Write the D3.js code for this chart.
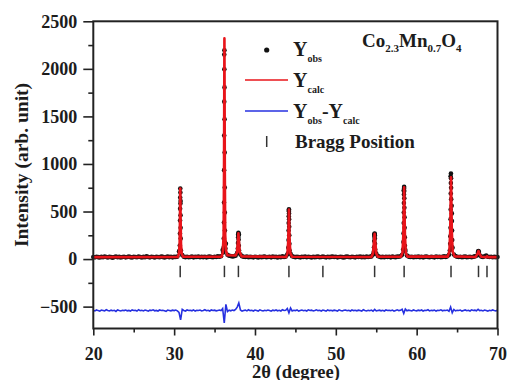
<!DOCTYPE html>
<html>
<head>
<meta charset="utf-8">
<script src="https://cdn.jsdelivr.net/npm/d3@7/dist/d3.min.js"></script>
<style>
  body { margin: 0; background: #fff; }
  svg { display: block; }
</style>
</head>
<body>
<svg id="chart" width="510" height="380"></svg>
<script>
const FONT = "'Liberation Serif', 'Times New Roman', Times, 'DejaVu Serif', serif";

// === Data ===
// observed scan, coarse grid 20..70 deg, step 0.2
const OBS_START = 20, OBS_STEP = 0.2;
const obsGrid = [
  22,18,25,20,16,23,19,27,21,17,
  24,20,15,22,26,19,23,17,21,25,
  18,22,27,20,16,24,21,19,26,22,
  17,23,20,28,21,18,24,22,16,25,
  21,19,26,23,17,22,27,20,24,18,
  23,21,26,80,610,42,25,20,24,19,
  22,26,18,23,21,27,19,24,20,25,
  18,23,26,21,19,24,22,28,25,30,
  95,2150,160,45,35,32,28,30,36,62,
  262,48,30,24,21,26,19,23,22,18,
  24,21,17,25,20,23,27,19,22,24,
  18,26,21,23,17,24,20,28,22,26,
  48,505,55,30,24,20,25,22,18,23,
  21,26,19,24,22,17,25,20,23,27,
  19,22,26,21,18,24,20,23,27,21,
  24,18,22,25,20,17,23,26,21,19,
  25,22,18,24,21,27,20,23,19,26,
  22,24,28,48,262,58,32,24,20,23,
  19,25,21,24,18,26,22,20,27,24,
  30,45,720,95,38,26,22,25,19,23,
  21,26,20,24,18,23,27,21,19,25,
  22,18,26,21,24,20,23,28,22,30,
  45,870,120,48,32,25,21,24,19,23,
  26,20,22,25,19,24,28,35,78,40,
  26,22,30,38,25,21,24,19,23,20,
  22
];

// observed points on the peak flanks (fine steps)
const obsPeaks = [
  [30.76,742],[30.77,700],[30.75,648],[30.78,585],[30.74,530],[30.79,460],[30.73,405],
  [30.80,330],[30.72,268],[30.81,215],[30.70,142],[30.84,90],[30.66,88],
  [36.22,2195],[36.21,1995],[36.23,1805],[36.20,1655],[36.24,1470],[36.19,1300],
  [36.25,1120],[36.18,935],[36.26,752],[36.17,594],[36.27,489],[36.16,384],
  [36.28,300],[36.14,216],[36.30,174],[36.12,120],[36.34,110],[36.08,70],
  [37.95,275],[37.93,262],[37.97,250],[37.92,230],[37.98,205],[37.90,170],
  [38.00,140],[37.88,110],[38.03,90],[37.85,65],
  [44.20,524],[44.19,505],[44.21,480],[44.18,450],[44.22,420],[44.17,380],[44.23,340],
  [44.16,300],[44.24,250],[44.15,200],[44.26,160],[44.13,120],[44.28,90],[44.10,60],
  [54.80,268],[54.78,258],[54.82,250],[54.77,235],[54.83,215],[54.75,190],
  [54.85,160],[54.73,125],[54.87,100],[54.70,75],[54.90,60],
  [58.45,759],[58.44,740],[58.46,715],[58.43,680],[58.47,640],[58.42,590],
  [58.48,540],[58.41,490],[58.50,440],[58.40,380],[58.51,330],[58.38,270],
  [58.53,230],[58.36,180],[58.55,140],[58.33,100],[58.58,80],
  [64.24,900],[64.25,850],[64.23,800],[64.26,750],[64.22,690],[64.27,630],
  [64.33,560],[64.21,520],[64.35,480],[64.20,420],[64.36,400],[64.19,330],
  [64.38,300],[64.17,240],[64.40,200],[64.15,160],[64.42,120],[64.10,90],
  [67.60,70],[67.65,85],[67.70,75]
];

// calculated profile vertices
const calcPts = [
  [20,20],[30.45,22],[30.6,60],[30.68,160],[30.72,420],[30.76,742],[30.8,420],
  [30.85,160],[30.93,60],[31.1,24],
  [35.85,24],[36.02,70],[36.12,250],[36.17,900],[36.22,2320],[36.27,900],
  [36.32,250],[36.42,90],[36.6,40],[37.6,38],[37.78,70],[37.88,180],
  [37.95,270],[38.02,180],[38.12,70],[38.35,28],
  [43.85,22],[44.02,60],[44.12,200],[44.2,520],[44.28,200],[44.38,60],[44.6,24],
  [54.4,22],[54.6,60],[54.72,180],[54.8,265],[54.88,180],[55.0,60],[55.2,24],
  [58.05,24],[58.25,70],[58.35,250],[58.45,755],[58.55,250],[58.65,70],[58.85,26],
  [63.85,26],[64.05,80],[64.15,290],[64.25,860],[64.35,290],[64.45,80],[64.7,28],
  [67.3,22],[67.55,60],[67.65,85],[67.75,60],[68.0,24],[68.6,20],[68.7,30],
  [68.8,20],[70,20]
];

// difference curve (offset), same grid as obsGrid
const diffGrid = [
  -538,-545,-535,-542,-548,-536,-540,-544,-533,-541,
  -546,-537,-543,-539,-550,-534,-541,-545,-538,-542,
  -536,-544,-540,-547,-535,-541,-538,-546,-532,-543,
  -539,-545,-536,-542,-548,-537,-541,-534,-544,-540,
  -546,-535,-541,-538,-543,-549,-536,-540,-544,-537,
  -542,-536,-545,-560,-640,-528,-540,-546,-535,-541,
  -538,-544,-534,-547,-539,-541,-536,-545,-540,-533,
  -543,-538,-546,-535,-541,-537,-544,-540,-536,-542,
  -520,-672,-476,-552,-538,-544,-536,-541,-530,-505,
  -462,-535,-548,-540,-537,-545,-533,-542,-539,-546,
  -536,-541,-547,-534,-540,-545,-538,-543,-536,-541,
  -548,-537,-542,-535,-544,-539,-546,-533,-541,-538,
  -520,-565,-515,-545,-538,-542,-535,-547,-540,-536,
  -543,-538,-546,-534,-541,-537,-545,-540,-533,-542,
  -539,-546,-536,-541,-548,-535,-542,-538,-544,-537,
  -541,-547,-534,-540,-545,-538,-536,-543,-539,-546,
  -535,-542,-538,-544,-537,-541,-547,-533,-540,-545,
  -538,-543,-536,-548,-530,-545,-540,-537,-544,-539,
  -546,-535,-541,-538,-543,-536,-548,-540,-534,-542,
  -539,-528,-572,-525,-543,-537,-541,-546,-535,-540,
  -544,-537,-542,-535,-546,-539,-541,-533,-545,-538,
  -542,-536,-547,-539,-541,-534,-544,-538,-540,-536,
  -548,-505,-565,-530,-545,-539,-541,-536,-547,-540,
  -535,-543,-538,-546,-534,-541,-537,-544,-528,-542,
  -539,-545,-536,-541,-547,-538,-543,-535,-540,-544,
  -538
];

const braggPos = [30.75, 36.22, 37.95, 44.2, 48.4, 54.8, 58.45, 64.25, 67.65, 68.7];
const braggSpan = [-70, -190];

const xMajor = [20, 30, 40, 50, 60, 70];
const xMinor = [25, 35, 45, 55, 65];
const yMajor = [-500, 0, 500, 1000, 1500, 2000, 2500];
const yMinor = [-250, 250, 750, 1250, 1750, 2250];

// === Scales ===
const svg = d3.select('#chart')
  .style('font-family', FONT)
  .style('font-weight', 'bold');
const x = d3.scaleLinear().domain([20, 70]).range([93.3, 497.5]);
const y = d3.scaleLinear().domain([-730, 2500]).range([328.5, 21.3]);

const obs = obsGrid.map((v, i) => [OBS_START + i * OBS_STEP, v]).concat(obsPeaks);
const diff = diffGrid.map((v, i) => [OBS_START + i * OBS_STEP, v]);

// === Axes ===
const axisG = svg.append('g');

function styleAxis(g) {
  g.attr('font-family', null).attr('font-size', null);
  g.select('.domain').remove();
  g.selectAll('.tick line').attr('stroke', '#222').attr('stroke-width', 1.6);
  g.selectAll('.tick text')
    .style('font-family', FONT)
    .style('font-weight', 'bold')
    .style('font-size', '18px')
    .attr('fill', '#1c1c1c');
}

axisG.append('g')
  .attr('transform', `translate(0,${y.range()[0]})`)
  .call(d3.axisBottom(x).tickValues(xMajor).tickSize(7).tickPadding(12).tickFormat(d3.format('d')))
  .call(styleAxis);
axisG.append('g')
  .attr('transform', `translate(0,${y.range()[0]})`)
  .call(d3.axisBottom(x).tickValues(xMinor).tickSize(4).tickFormat(''))
  .call(styleAxis);
axisG.append('g')
  .attr('transform', `translate(${x.range()[0]},0)`)
  .call(d3.axisLeft(y).tickValues(yMajor).tickSize(10).tickPadding(6).tickFormat(d3.format('d')))
  .call(styleAxis);
axisG.append('g')
  .attr('transform', `translate(${x.range()[0]},0)`)
  .call(d3.axisLeft(y).tickValues(yMinor).tickSize(5).tickFormat(''))
  .call(styleAxis);

// === Marks ===
const plot = svg.append('g');

plot.selectAll('circle.obs')
  .data(obs)
  .join('circle')
  .attr('class', 'obs')
  .attr('cx', d => x(d[0]))
  .attr('cy', d => y(d[1]))
  .attr('r', 2.3)
  .attr('fill', '#111');

const line = d3.line().x(d => x(d[0])).y(d => y(d[1]));

plot.append('path')
  .datum(calcPts)
  .attr('d', line)
  .attr('fill', 'none')
  .attr('stroke', '#e8141a')
  .attr('stroke-width', 2.6)
  .attr('stroke-linejoin', 'round');

plot.append('path')
  .datum(diff)
  .attr('d', line)
  .attr('fill', 'none')
  .attr('stroke', '#2630e0')
  .attr('stroke-width', 1.6);

plot.selectAll('line.bragg')
  .data(braggPos)
  .join('line')
  .attr('class', 'bragg')
  .attr('x1', d => x(d)).attr('x2', d => x(d))
  .attr('y1', y(braggSpan[0])).attr('y2', y(braggSpan[1]))
  .attr('stroke', '#333')
  .attr('stroke-width', 1.5);

// frame
svg.append('rect')
  .attr('x', x.range()[0]).attr('y', y.range()[1])
  .attr('width', x.range()[1] - x.range()[0])
  .attr('height', y.range()[0] - y.range()[1])
  .attr('fill', 'none')
  .attr('stroke', '#222')
  .attr('stroke-width', 2);

// === Titles ===
function label(sel) {
  return sel.style('font-family', FONT).style('font-weight', 'bold').attr('fill', '#1c1c1c');
}

svg.append('text')
  .attr('transform', 'translate(28,165) rotate(-90)')
  .attr('text-anchor', 'middle')
  .attr('font-size', 19.5)
  .call(label)
  .text('Intensity (arb. unit)');

svg.append('text')
  .attr('x', 296).attr('y', 377.5)
  .attr('text-anchor', 'middle')
  .attr('font-size', 18.5)
  .call(label)
  .text('2θ (degree)');

// === Legend ===
const leg = svg.append('g');
leg.append('circle').attr('cx', 266.7).attr('cy', 50).attr('r', 2.6).attr('fill', '#111');
leg.append('line').attr('x1', 245).attr('x2', 288).attr('y1', 80).attr('y2', 80)
  .attr('stroke', '#e8141a').attr('stroke-width', 1.6);
leg.append('line').attr('x1', 245).attr('x2', 288).attr('y1', 111).attr('y2', 111)
  .attr('stroke', '#2630e0').attr('stroke-width', 1.6);
leg.append('line').attr('x1', 266.7).attr('x2', 266.7).attr('y1', 136).attr('y2', 147)
  .attr('stroke', '#333').attr('stroke-width', 1.5);

function subText(xPos, yPos, parts) {
  const t = leg.append('text').attr('x', xPos).attr('y', yPos).call(label);
  let shift = 0;
  parts.forEach(([s, sub]) => {
    const target = sub ? 6 : 0;
    t.append('tspan')
      .attr('dy', target - shift)
      .attr('font-size', sub ? 10 : 20)
      .text(s);
    shift = target;
  });
  return t;
}

subText(293, 56, [['Y', false], ['obs', true]]);
subText(293, 87, [['Y', false], ['calc', true]]);
subText(293, 118, [['Y', false], ['obs', true], ['-Y', false], ['calc', true]]);
leg.append('text').attr('x', 295).attr('y', 148).attr('font-size', 19)
  .call(label).text('Bragg Position');

// compound formula
const f = leg.append('text').attr('x', 362).attr('y', 47).call(label);
[['Co', 0], ['2.3', 5], ['Mn', -5], ['0.7', 5], ['O', -5], ['4', 5]].forEach(([s, dy]) => {
  f.append('tspan').attr('dy', dy).attr('font-size', dy > 0 ? 11 : 19).text(s);
});
</script>
</body>
</html>
